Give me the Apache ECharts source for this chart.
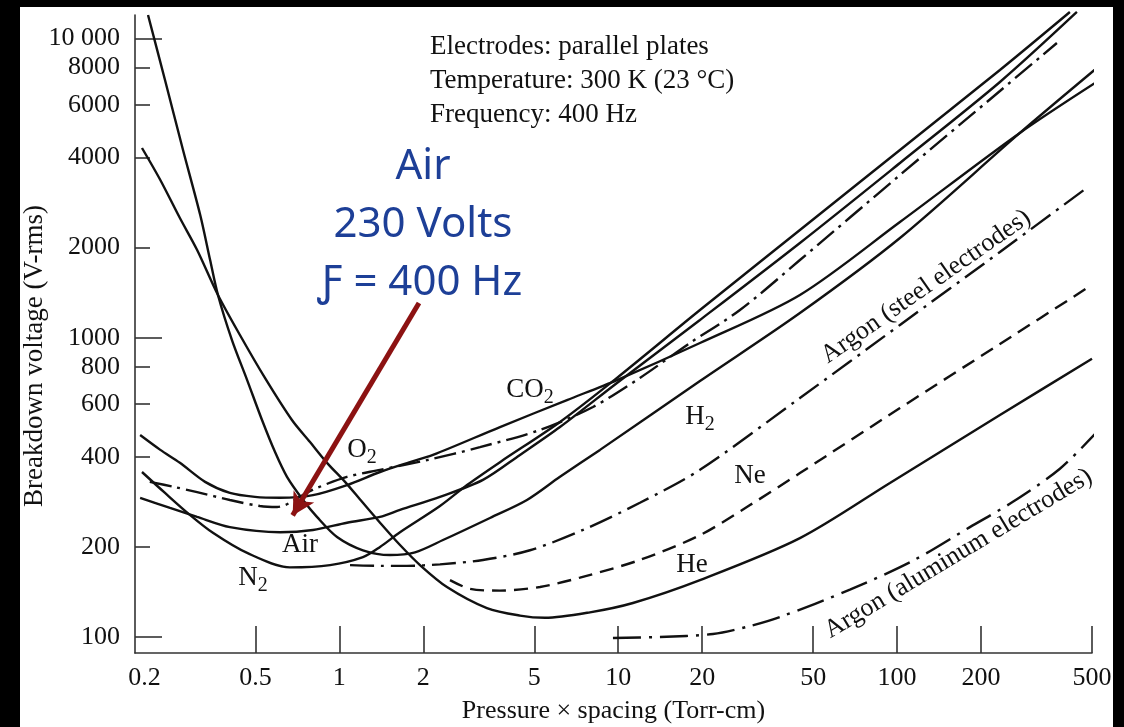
<!DOCTYPE html>
<html>
<head>
<meta charset="utf-8">
<title>Breakdown voltage vs pressure x spacing</title>
<style>
	html,body{margin:0;padding:0;background:#000;width:1124px;height:727px;overflow:hidden;}
	#chart{position:absolute;left:20px;top:7px;width:1093px;height:720px;background:#fff;}
</style>
</head>
<body>
<div id="chart"></div>
<script src="https://cdn.jsdelivr.net/npm/echarts@6/dist/echarts.min.js"></script>
<script>
	// axis ticks / labels
	var xTicks = [0.5, 1, 2, 5, 10, 20, 50, 100, 200, 500];
	var xLabels = [0.2, 0.5, 1, 2, 5, 10, 20, 50, 100, 200, 500];
	var yMajor = [100, 1000, 10000];
	var yMinor = [200, 400, 600, 800, 2000, 4000, 6000, 8000];
	var yLabels = [100, 200, 400, 600, 800, 1000, 2000, 4000, 6000, 8000, 10000];

	// curves, pd in Torr-cm, V in V-rms
	var h2Pd = [0.206, 0.237, 0.275, 0.317, 0.344, 0.367, 0.412, 0.467, 0.528, 0.588, 0.649, 0.741, 0.831, 0.981, 1.215, 1.519, 1.867, 2.353, 3.468, 4.707, 6.182, 8.601, 19.64, 44.83, 102.4, 275.6, 547];
	var h2V = [11960, 7256, 4236, 2569, 1817, 1389, 982, 722, 531, 415, 343, 287, 252, 216, 195, 188, 192, 211, 250, 287, 343, 422, 717, 1209, 2153, 4828, 8270];

	var hePd = [0.196, 0.228, 0.268, 0.309, 0.367, 0.440, 0.541, 0.676, 0.785, 0.903, 1.048, 1.206, 1.399, 1.650, 1.946, 2.431, 3.382, 4.443, 5.463, 7.919, 11.29, 19.64, 44.83, 94.26, 233.8, 500];
	var heV = [4301, 3363, 2510, 1963, 1389, 1021, 734, 531, 448, 382, 330, 283, 241, 203, 174, 147, 125, 118, 116, 121, 130, 155, 214, 327, 552, 850];

	var co2Pd = [0.193, 0.228, 0.268, 0.330, 0.405, 0.498, 0.613, 0.804, 1.065, 1.399, 1.792, 2.166, 3.767, 6.55, 9.897, 19.64, 44.83, 102.4, 275.6, 547];
	var co2V = [473, 422, 382, 330, 303, 294, 292, 298, 322, 356, 384, 406, 503, 619, 722, 960, 1389, 2434, 4828, 7369];

	var o2Pd = [0.209, 0.257, 0.309, 0.405, 0.519, 0.598, 0.638, 0.682, 0.753, 0.831, 1.065, 1.399, 2.062, 3.193, 5.241, 8.117, 11.96, 18.08, 27.32, 44.83, 102.4, 233.8, 374.2];
	var o2V = [330, 317, 305, 287, 274, 272, 276, 285, 301, 315, 343, 362, 390, 431, 492, 587, 734, 960, 1237, 1817, 3494, 6668, 9645];

	var airPd = [0.193, 0.247, 0.309, 0.405, 0.613, 0.804, 1.065, 1.399, 1.650, 2.295, 3.273, 4.443, 6.182, 9.897, 19.64, 44.83, 102.4, 233.8, 441.4];
	var airV = [292, 270, 252, 233, 224, 228, 241, 252, 266, 294, 335, 406, 503, 706, 1146, 2072, 3833, 7145, 12240];

	var n2Pd = [0.196, 0.237, 0.291, 0.352, 0.467, 0.665, 0.926, 1.215, 1.399, 1.650, 2.295, 2.869, 3.767, 6.182, 9.897, 19.64, 44.83, 102.4, 233.8, 416.6];
	var n2V = [356, 303, 256, 223, 191, 171, 174, 185, 200, 224, 274, 322, 384, 523, 734, 1237, 2289, 4236, 7836, 12240];

	var arSteelPd = [1.092, 1.399, 1.748, 2.295, 3.273, 4.826, 7.475, 11.96, 19.64, 44.83, 102.4, 233.8, 483.4];
	var arSteelV = [174, 173, 173, 175, 181, 195, 228, 281, 362, 629, 1103, 1933, 3186];

	var nePd = [2.493, 2.940, 3.767, 5.241, 7.292, 11.96, 19.64, 29.68, 44.83, 102.4, 233.8, 499.4];
	var neV = [155, 145, 143, 147, 158, 181, 219, 276, 353, 582, 953, 1500];

	var arAlPd = [9.575, 14.11, 21.86, 29.68, 38.01, 67.75, 114.0, 182.4, 260.2, 383.6, 520.5];
	var arAlV = [99.3, 100.1, 102.4, 108.9, 116.7, 144, 180, 233, 283, 365, 484];

	// curve labels
	var labelNames = ['Air', 'N2', 'O2', 'CO2', 'H2', 'Ne', 'He', 'Argon (steel electrodes)', 'Argon (aluminum electrodes)'];
	var labelPd = [0.7225, 0.490, 1.2055, 4.826, 19.64, 29.68, 18.38, 127, 166];
	var labelV = [203, 157.5, 421.6, 669, 543.5, 345, 174, 1480, 190];

	// red arrow (Air annotation)
	var arrowFrom = [1.93, 1306];
	var arrowTo = [0.68, 255];

	var serif = '"Liberation Serif", "Times New Roman", serif';
	var ink = '#111';

	function pairs(pd, v){
		var out = [];
		for(var i=0;i<pd.length;i++){ out.push([pd[i], v[i]]); }
		return out;
	}
	function curve(name, pd, v, dash){
		return {
			name: name,
			type: 'line',
			data: pairs(pd, v),
			showSymbol: false,
			smooth: 0.3,
			clip: false,
			silent: true,
			lineStyle: {color: ink, width: 2.4, type: dash || 'solid'}
		};
	}
	function labelText(name){
		var m = name.match(/^([A-Za-z]+)2$/);
		if(m){ return '{t|' + m[1] + '}{s|2}'; }
		return '{t|' + name + '}';
	}
	var rotations = {'Argon (steel electrodes)': 35, 'Argon (aluminum electrodes)': 31};
	var labelData = labelNames.map(function(n, i){
		return {
			value: [labelPd[i], labelV[i]],
			label: {
				show: true,
				position: 'inside',
				rotate: rotations[n] || 0,
				formatter: labelText(n),
				rich: {
					t: {fontFamily: serif, fontSize: rotations[n] ? 26 : 27, color: ink},
					s: {fontFamily: serif, fontSize: 20, color: ink, padding: [15, 0, 0, 0]}
				}
			}
		};
	});

	var airSeries = curve('Air', airPd, airV);
	airSeries.markLine = {
		silent: true,
		animation: false,
		symbol: ['none', 'arrow'],
		symbolSize: [18, 22],
		label: {show: false},
		lineStyle: {color: '#8c1212', width: 5, type: 'solid'},
		data: [[{coord: arrowFrom}, {coord: arrowTo}]]
	};

	var yLabelFmt = function(v){ v = Math.round(v); return v >= 10000 ? '10 000' : String(v); };

	var chart = echarts.init(document.getElementById('chart'));
	chart.setOption({
		animation: false,
		backgroundColor: '#fff',
		title: {
			text: 'Electrodes: parallel plates\nTemperature: 300 K (23 °C)\nFrequency: 400 Hz',
			left: 410,
			top: 23,
			padding: 0,
			textStyle: {fontFamily: serif, fontSize: 27, fontWeight: 'normal', color: ink, lineHeight: 34}
		},
		grid: {left: 115, right: 21, top: 8, bottom: 74, containLabel: false, outerBoundsMode: 'none'},
		xAxis: {
			type: 'log',
			min: 0.185,
			max: 500,
			name: 'Pressure × spacing (Torr-cm)',
			nameLocation: 'middle',
			nameGap: 45,
			nameMoveOverlap: false,
			nameTextStyle: {fontFamily: serif, fontSize: 26, color: ink},
			axisLine: {show: true, lineStyle: {color: '#333', width: 1.6}},
			axisTick: {show: true, inside: true, length: 27, customValues: xTicks, lineStyle: {color: '#333', width: 1.6}},
			minorTick: {show: false},
			axisLabel: {
				customValues: xLabels,
				margin: 12,
				fontFamily: serif, fontSize: 26, color: ink,
				formatter: function(v){ return String(+(+v).toPrecision(3)); }
			},
			splitLine: {show: false}
		},
		yAxis: [{
			type: 'log',
			min: 88.5,
			max: 11960,
			name: 'Breakdown voltage (V-rms)',
			nameLocation: 'middle',
			nameGap: 87,
			nameMoveOverlap: false,
			nameTextStyle: {fontFamily: serif, fontSize: 27, color: ink, padding: [0, 44, 0, 0]},
			axisLine: {show: true, lineStyle: {color: '#333', width: 1.6}},
			axisTick: {show: true, inside: true, length: 27, customValues: yMajor, lineStyle: {color: '#333', width: 1.6}},
			minorTick: {show: false},
			axisLabel: {customValues: yLabels, margin: 15, fontFamily: serif, fontSize: 26, color: ink, formatter: yLabelFmt},
			splitLine: {show: false}
		}, {
			type: 'log',
			min: 88.5,
			max: 11960,
			position: 'left',
			axisLine: {show: false},
			axisTick: {show: true, inside: true, length: 15, customValues: yMinor, lineStyle: {color: '#333', width: 1.6}},
			minorTick: {show: false},
			axisLabel: {show: false},
			splitLine: {show: false}
		}],
		graphic: [
			{type: 'text', x: 403, y: 160, style: {text: 'Air', fontFamily: '"Noto Sans", sans-serif', fontSize: 42, fill: '#1d3f97', align: 'center', verticalAlign: 'middle'}},
			{type: 'text', x: 403, y: 218, style: {text: '230 Volts', fontFamily: '"Noto Sans", sans-serif', fontSize: 42, fill: '#1d3f97', align: 'center', verticalAlign: 'middle'}},
			{type: 'text', x: 400, y: 276, style: {text: 'Ƒ = 400 Hz', fontFamily: '"Noto Sans", sans-serif', fontSize: 42, fill: '#1d3f97', align: 'center', verticalAlign: 'middle'}}
		],
		series: [
			curve('H2', h2Pd, h2V),
			curve('He', hePd, heV),
			curve('CO2', co2Pd, co2V),
			curve('O2', o2Pd, o2V, [22, 6, 3, 6]),
			airSeries,
			curve('N2', n2Pd, n2V),
			curve('Argon (steel electrodes)', arSteelPd, arSteelV, [24, 7, 3, 7]),
			curve('Ne', nePd, neV, [14, 8]),
			curve('Argon (aluminum electrodes)', arAlPd, arAlV, [28, 8, 3, 8]),
			{
				name: 'labels',
				type: 'scatter',
				symbolSize: 0,
				silent: true,
				clip: false,
				itemStyle: {opacity: 1},
				data: labelData
			}
		]
	});
</script>
</body>
</html>
